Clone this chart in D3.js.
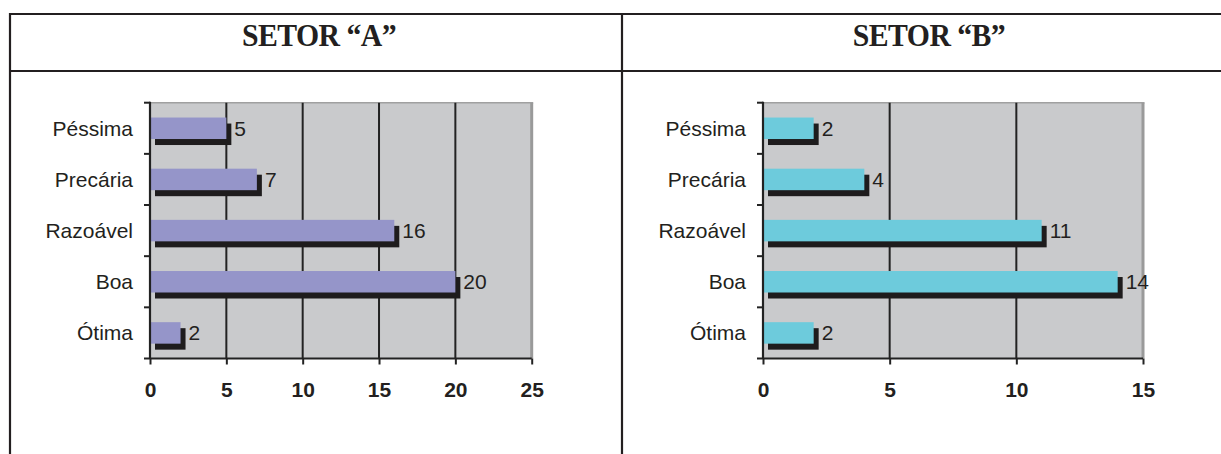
<!DOCTYPE html>
<html>
<head>
<meta charset="utf-8">
<script src="https://cdn.jsdelivr.net/npm/d3@7"></script>
<style>
  html, body { margin: 0; padding: 0; background: #fff; }
  svg { display: block; }
</style>
</head>
<body>
<svg id="chart" width="1221" height="454"></svg>
<script>
const categories = ["Péssima", "Precária", "Razoável", "Boa", "Ótima"];
const valuesA = [5, 7, 16, 20, 2];
const valuesB = [2, 4, 11, 14, 2];
const ticksA = [0, 5, 10, 15, 20, 25];
const ticksB = [0, 5, 10, 15];
const titles = ["SETOR \u201CA\u201D", "SETOR \u201CB\u201D"];

const svg = d3.select("#chart");
const lineColor = "#231f20";

// Table frame
svg.append("line").attr("x1", 9).attr("x2", 1221).attr("y1", 14).attr("y2", 14)
  .attr("stroke", lineColor).attr("stroke-width", 2.2);
svg.append("line").attr("x1", 9).attr("x2", 1221).attr("y1", 71).attr("y2", 71)
  .attr("stroke", lineColor).attr("stroke-width", 2.2);
svg.append("line").attr("x1", 10).attr("x2", 10).attr("y1", 13).attr("y2", 454)
  .attr("stroke", lineColor).attr("stroke-width", 2.2);
svg.append("line").attr("x1", 622).attr("x2", 622).attr("y1", 13).attr("y2", 454)
  .attr("stroke", lineColor).attr("stroke-width", 2.2);

// Titles (condensed bold serif)
[[319, titles[0]], [929, titles[1]]].forEach(([x, t]) => {
  svg.append("text")
    .attr("transform", `translate(${x},46) scale(0.93,1)`)
    .attr("text-anchor", "middle")
    .attr("font-family", "'Liberation Serif', 'Times New Roman', serif")
    .attr("font-weight", "bold").attr("font-size", 32)
    .attr("letter-spacing", -0.6)
    .attr("fill", "#231f20").text(t);
});

function drawChart(cfg) {
  const { left, right, top, bottom, values, ticks, max, color } = cfg;
  const x = d3.scaleLinear().domain([0, max]).range([left, right]);
  const y = d3.scaleBand().domain(categories).range([top, bottom])
    .paddingInner(0.58).paddingOuter(0.29);
  const g = svg.append("g");

  // plot area
  g.append("rect").attr("x", left).attr("y", top)
    .attr("width", right - left).attr("height", bottom - top)
    .attr("fill", "#c9cacc");
  g.append("line").attr("x1", left).attr("x2", right + 1.5).attr("y1", top).attr("y2", top)
    .attr("stroke", "#a0a0a0").attr("stroke-width", 1.6);
  g.append("line").attr("x1", right).attr("x2", right).attr("y1", top).attr("y2", bottom)
    .attr("stroke", "#9a9a9a").attr("stroke-width", 3);

  // gridlines
  g.selectAll(".grid").data(ticks.filter(t => t > 0 && t < max)).enter()
    .append("line").attr("x1", d => x(d)).attr("x2", d => x(d))
    .attr("y1", top).attr("y2", bottom)
    .attr("stroke", "#222").attr("stroke-width", 2);

  const data = categories.map((c, i) => ({ c, v: values[i] }));
  g.selectAll(".shadow").data(data).enter().append("rect")
    .attr("x", x(0) + 5).attr("y", d => y(d.c) + 6)
    .attr("width", d => x(d.v) - x(0)).attr("height", y.bandwidth())
    .attr("fill", "#1e1c1d");
  g.selectAll(".bar").data(data).enter().append("rect")
    .attr("x", x(0)).attr("y", d => y(d.c))
    .attr("width", d => x(d.v) - x(0)).attr("height", y.bandwidth())
    .attr("fill", color);
  g.selectAll(".val").data(data).enter().append("text")
    .attr("x", d => x(d.v) + 8).attr("y", d => y(d.c) + y.bandwidth() / 2 + 7.5)
    .attr("font-family", "Arial, 'Liberation Sans', sans-serif").attr("font-size", 21)
    .attr("fill", "#231f20").text(d => d.v);

  // y axis
  const yAxis = g.append("g").attr("transform", `translate(${left},0)`);
  yAxis.append("line").attr("x1", 0).attr("x2", 0).attr("y1", top - 1).attr("y2", bottom)
    .attr("stroke", "#222").attr("stroke-width", 2.2);
  const step = y.step();
  const bounds = d3.range(categories.length + 1).map(i => top + i * step);
  yAxis.selectAll(".yt").data(bounds).enter().append("line")
    .attr("x1", -6).attr("x2", 0).attr("y1", d => d).attr("y2", d => d)
    .attr("stroke", "#222").attr("stroke-width", 2);
  yAxis.selectAll(".yl").data(categories).enter().append("text")
    .attr("x", -17).attr("y", d => y(d) + y.bandwidth() / 2 + 7.5)
    .attr("text-anchor", "end")
    .attr("font-family", "Arial, 'Liberation Sans', sans-serif").attr("font-size", 21)
    .attr("fill", "#231f20").text(d => d);

  // x axis
  const xAxis = d3.axisBottom(x).tickValues(ticks).tickSize(6).tickPadding(18)
    .tickFormat(d3.format("d"));
  const xa = g.append("g").attr("transform", `translate(0,${bottom})`).call(xAxis);
  xa.select(".domain").attr("stroke", "#222").attr("stroke-width", 2.2)
    .attr("d", `M${left},0H${right}`);
  xa.selectAll(".tick line").attr("stroke", "#222").attr("stroke-width", 2);
  xa.selectAll(".tick text")
    .attr("font-family", "Arial, 'Liberation Sans', sans-serif")
    .attr("font-size", 21).attr("font-weight", "bold").attr("fill", "#231f20");
}

drawChart({ left: 150, right: 531.7, top: 102.7, bottom: 358.5,
  values: valuesA, ticks: ticksA, max: 25, color: "#9595c9" });
drawChart({ left: 763, right: 1143, top: 102.7, bottom: 358.5,
  values: valuesB, ticks: ticksB, max: 15, color: "#6dcbdc" });
</script>
</body>
</html>
